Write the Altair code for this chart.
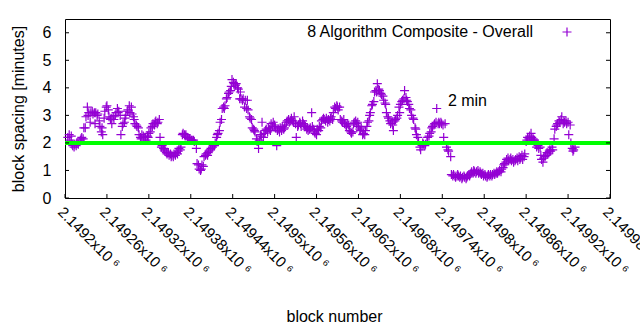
import altair as alt
import pandas as pd

# ---------------- data ----------------
blocks = [
    2149204, 2149206, 2149207, 2149209, 2149210, 2149211, 2149213, 2149214, 2149216, 2149217, 2149219,
    2149222, 2149223, 2149224, 2149226, 2149227, 2149229, 2149230, 2149232, 2149233, 2149234,
    2149236, 2149237, 2149239, 2149240, 2149242, 2149243, 2149244, 2149246, 2149247, 2149249,
    2149250, 2149252, 2149253, 2149254, 2149256, 2149257, 2149259, 2149260, 2149262, 2149263,
    2149265, 2149266, 2149267, 2149269, 2149270, 2149272, 2149273, 2149275, 2149276, 2149277,
    2149279, 2149280, 2149282, 2149283, 2149285, 2149286, 2149287, 2149289, 2149290, 2149292,
    2149293, 2149295, 2149296, 2149298, 2149299, 2149300, 2149302, 2149303, 2149305, 2149306,
    2149308, 2149309, 2149310, 2149312, 2149313, 2149315, 2149316, 2149318, 2149319, 2149320,
    2149322, 2149323, 2149325, 2149326, 2149328, 2149329, 2149330, 2149332, 2149333, 2149335,
    2149336, 2149338, 2149339, 2149341, 2149342, 2149343, 2149345, 2149346, 2149348, 2149349,
    2149351, 2149352, 2149353, 2149355, 2149356, 2149358, 2149359, 2149361, 2149362, 2149363,
    2149365, 2149366, 2149368, 2149369, 2149371, 2149372, 2149373, 2149375, 2149376, 2149378,
    2149379, 2149381, 2149382, 2149384, 2149385, 2149388, 2149389, 2149391, 2149392, 2149394,
    2149395, 2149396, 2149398, 2149399, 2149401, 2149402, 2149404, 2149405, 2149406, 2149408,
    2149409, 2149411, 2149412, 2149414, 2149415, 2149417, 2149418, 2149419, 2149421, 2149422,
    2149424, 2149425, 2149427, 2149428, 2149429, 2149431, 2149432, 2149434, 2149435, 2149437,
    2149438, 2149439, 2149441, 2149442, 2149444, 2149445, 2149447, 2149448, 2149450, 2149451,
    2149452, 2149454, 2149455, 2149457, 2149458, 2149460, 2149461, 2149462, 2149464, 2149465,
    2149467, 2149468, 2149470, 2149471, 2149472, 2149474, 2149475, 2149477, 2149478, 2149480,
    2149481, 2149482, 2149484, 2149485, 2149487, 2149488, 2149490, 2149491, 2149493, 2149494,
    2149495, 2149497, 2149498, 2149500, 2149501, 2149503, 2149504, 2149505, 2149507, 2149508,
    2149510, 2149511, 2149513, 2149514, 2149515, 2149517, 2149518, 2149520, 2149521, 2149523,
    2149524, 2149526, 2149527, 2149528, 2149530, 2149531, 2149533, 2149534, 2149536, 2149537,
    2149538, 2149540, 2149541, 2149543, 2149544, 2149546, 2149547, 2149548, 2149550, 2149551,
    2149553, 2149554, 2149556, 2149557, 2149558, 2149560, 2149561, 2149563, 2149564, 2149566,
    2149567, 2149569, 2149570, 2149571, 2149573, 2149574, 2149576, 2149577, 2149579, 2149580,
    2149581, 2149583, 2149584, 2149586, 2149587, 2149589, 2149590, 2149591, 2149593, 2149594,
    2149596, 2149597, 2149599, 2149600, 2149602, 2149603, 2149604, 2149606, 2149607, 2149609,
    2149610, 2149612, 2149613, 2149614, 2149616, 2149617, 2149619, 2149620, 2149622, 2149623,
    2149624, 2149626, 2149627, 2149629, 2149630, 2149632, 2149633, 2149635, 2149636, 2149637,
    2149639, 2149640, 2149642, 2149643, 2149645, 2149646, 2149647, 2149649, 2149650, 2149652,
    2149653, 2149655, 2149656, 2149658, 2149659, 2149660, 2149662, 2149663, 2149665, 2149666,
    2149668, 2149669, 2149670, 2149672, 2149673, 2149675, 2149676, 2149678, 2149679, 2149680,
    2149682, 2149683, 2149685, 2149686, 2149688, 2149689, 2149690, 2149692, 2149693, 2149695,
    2149696, 2149698, 2149699, 2149701, 2149702, 2149703, 2149705, 2149706, 2149708, 2149709,
    2149711, 2149712, 2149713, 2149715, 2149716, 2149718, 2149719, 2149721, 2149722, 2149724,
    2149725, 2149726, 2149728, 2149729, 2149731, 2149732, 2149734, 2149735, 2149736, 2149738,
    2149739, 2149741, 2149742, 2149744, 2149746, 2149748, 2149749, 2149752,
    2149753, 2149755, 2149756, 2149758, 2149759, 2149761, 2149762, 2149763, 2149765, 2149766,
    2149768, 2149769, 2149771, 2149772, 2149774, 2149775, 2149776, 2149778, 2149779, 2149781,
    2149782, 2149784, 2149785, 2149786, 2149788, 2149789, 2149791, 2149792, 2149794, 2149795,
    2149796, 2149798, 2149799, 2149801, 2149802, 2149804, 2149805, 2149806, 2149808, 2149809,
    2149811, 2149812, 2149814, 2149815, 2149817, 2149818, 2149819, 2149821, 2149822, 2149824,
    2149825, 2149827, 2149828, 2149829, 2149831, 2149832, 2149834, 2149835, 2149837, 2149838,
    2149839, 2149841, 2149842, 2149844, 2149845, 2149847, 2149848, 2149850, 2149851, 2149852,
    2149854, 2149855, 2149857, 2149858, 2149860, 2149861, 2149862, 2149864, 2149865, 2149867,
    2149868, 2149870, 2149871, 2149872, 2149874, 2149875, 2149877, 2149878, 2149880, 2149881,
    2149882, 2149884, 2149885, 2149887, 2149888, 2149890, 2149891, 2149893, 2149894, 2149895,
    2149897, 2149898, 2149900, 2149901, 2149903, 2149904, 2149905, 2149907, 2149908, 2149910,
    2149911, 2149913, 2149914, 2149915, 2149917, 2149918, 2149920, 2149921, 2149923, 2149924,
    2149926, 2149927, 2149928, 2149930,
]

spacing = [
    2.2, 2.3, 2.1, 2.25, 1.95, 1.9, 1.85, 1.95, 1.9, 2.0, 1.95,
    2.1, 2.15, 2.2, 2.15, 2.55, 2.55, 2.95, 3.3, 3.0, 3.1,
    2.75, 3.1, 3.15, 3.05, 3.1, 2.7, 3.1, 3.0, 3.05, 2.8,
    2.6, 2.4, 2.55, 2.3, 2.9, 3.15, 3.3, 3.35, 3.2, 2.95,
    2.85, 2.9, 2.7, 2.95, 2.85, 3.0, 3.1, 3.25, 3.1, 3.15,
    3.0, 2.3, 2.6, 2.7, 2.75, 2.9, 3.0, 3.15, 3.2, 3.35,
    3.1, 3.3, 3.05, 2.95, 2.85, 2.7, 2.65, 2.6, 2.55, 2.3,
    2.2, 2.15, 2.3, 2.25, 2.2, 2.2, 2.1, 2.25, 2.2, 2.35,
    2.4, 2.55, 2.6, 2.7, 2.65, 2.75, 2.8, 2.7, 2.75, 2.85,
    2.2, 1.85, 1.9, 1.8, 1.75, 1.7, 1.65, 1.6, 1.65, 1.55,
    1.6, 1.5, 1.55, 1.5, 1.6, 1.55, 1.65, 1.6, 1.7, 1.8,
    1.75, 1.85, 2.3, 2.35, 2.3, 2.25, 2.3, 2.2, 2.2, 2.15,
    2.15, 2.1, 2.1, 2.1, 2.05, 1.8, 1.25, 1.2, 1.05, 1.0,
    1.05, 1.2, 1.15, 1.5, 1.55, 1.6, 1.55, 1.65, 1.7, 1.75,
    1.8, 1.85, 1.9, 1.9, 2.0, 2.2, 2.3, 2.35, 2.45, 2.75,
    2.85, 3.25, 3.3, 3.25, 3.35, 3.6, 3.65, 3.8, 3.85, 3.9,
    4.05, 4.3, 4.2, 4.15, 4.1, 4.15, 4.0, 3.95, 3.6, 3.85,
    3.6, 3.55, 3.6, 3.3, 3.55, 3.25, 3.55, 3.2, 2.95, 2.9,
    2.85, 2.55, 2.5, 2.45, 2.4, 2.15, 2.05, 1.8, 2.1, 2.3,
    2.25, 2.75, 2.2, 2.35, 2.45, 2.5, 2.4, 2.55, 2.5, 2.45,
    2.7, 2.6, 2.75, 2.65, 2.55, 1.9, 2.45, 2.5, 2.4, 2.55,
    2.45, 2.6, 2.5, 2.55, 2.65, 2.75, 2.8, 2.85, 2.75, 2.8,
    2.9, 2.8, 2.75, 2.95, 2.7, 2.2, 2.6, 2.65, 2.75, 2.7,
    2.6, 2.8, 2.7, 2.65, 2.6, 2.5, 2.55, 2.45, 2.5, 2.55,
    3.1, 2.6, 2.5, 2.4, 2.35, 2.3, 2.5, 2.45, 2.6, 2.55,
    2.8, 2.85, 2.9, 2.85, 2.8, 2.9, 2.75, 2.85, 2.8, 2.9,
    2.95, 2.85, 3.1, 3.3, 3.25, 3.35, 3.3, 3.2, 3.3, 2.85,
    2.8, 2.75, 2.85, 2.7, 2.65, 2.6, 2.7, 2.65, 2.45, 2.4,
    2.35, 2.4, 2.7, 2.75, 2.8, 2.7, 2.75, 2.6, 2.5, 2.45,
    2.55, 2.3, 2.35, 2.3, 2.45, 2.6, 2.75, 2.8, 3.0, 3.1,
    3.35, 3.4, 3.5, 3.85, 3.9, 3.85, 4.15, 3.95, 3.9, 3.8,
    3.75, 3.7, 3.55, 3.45, 3.4, 3.1, 2.95, 2.9, 2.8, 2.7,
    2.75, 2.65, 2.45, 2.8, 2.85, 2.9, 3.0, 3.3, 3.1, 3.4,
    3.5, 3.55, 3.6, 3.9, 3.65, 3.55, 3.5, 3.4, 3.25, 3.2,
    3.0, 2.9, 2.85, 2.55, 2.5, 2.3, 2.2, 2.05, 1.85, 1.75,
    1.9, 2.0, 1.95, 1.9, 1.95, 2.05, 2.2, 2.25, 2.35, 2.4,
    2.55, 2.6, 2.65, 2.7, 2.75, 3.25, 2.7, 2.75, 2.7, 2.75,
    2.7, 2.65, 2.2, 2.7, 1.85, 1.75, 1.7, 1.5,
    0.85, 0.8, 0.85, 0.8, 0.75, 0.8, 0.85, 0.8, 0.75, 0.8,
    0.7, 0.75, 0.8, 0.75, 0.7, 0.75, 0.8, 0.85, 0.8, 0.9,
    0.95, 0.9, 1.0, 0.95, 0.9, 0.95, 1.0, 0.9, 0.95, 0.9,
    0.85, 0.9, 0.8, 0.85, 0.8, 0.75, 0.8, 0.85, 0.8, 0.85,
    0.8, 0.85, 0.9, 0.85, 0.9, 0.95, 0.9, 0.95, 1.0, 0.95,
    1.05, 1.1, 1.2, 1.25, 1.3, 1.4, 1.45, 1.35, 1.4, 1.45,
    1.35, 1.4, 1.3, 1.35, 1.4, 1.45, 1.35, 1.5, 1.4, 1.45,
    1.55, 1.4, 1.5, 1.6, 2.05, 2.1, 2.2, 2.15, 2.25, 2.35,
    2.2, 2.15, 2.1, 2.1, 1.95, 1.85, 1.9, 1.8, 1.85, 1.55,
    1.4, 1.3, 1.45, 1.5, 1.55, 1.65, 1.6, 1.7, 1.75, 1.7,
    1.85, 1.75, 2.15, 2.5, 2.6, 2.65, 2.7, 2.8, 2.75, 2.85,
    2.95, 2.7, 2.8, 2.75, 2.8, 2.7, 2.75, 2.3, 2.65, 2.0,
    1.8, 1.7, 1.75, 1.85,
]

x_tick_values = [2149200, 2149260, 2149320, 2149380, 2149440, 2149500, 2149560,
                 2149620, 2149680, 2149740, 2149800, 2149860, 2149920, 2149980]
x_tick_labels = ["2.1492x10 ⁶", "2.14926x10 ⁶", "2.14932x10 ⁶", "2.14938x10 ⁶",
                 "2.14944x10 ⁶", "2.1495x10 ⁶", "2.14956x10 ⁶", "2.14962x10 ⁶",
                 "2.14968x10 ⁶", "2.14974x10 ⁶", "2.1498x10 ⁶", "2.14986x10 ⁶",
                 "2.14992x10 ⁶", "2.14998x10 ⁶"]
y_tick_values = [0, 1, 2, 3, 4, 5, 6]
x_domain = [2149200, 2149980]
y_domain = [0, 6.5]
reference_level = [2]
annotation_block = [2149748]
annotation_value = [3.53]
annotation_text = ["2 min"]
series_name = "8 Algorithm Composite - Overall"

# ---------------- styling ----------------
FONT = "Liberation Sans"
PURPLE = "#9400d3"
GREEN = "#00ff00"
W, H = 545, 179
PLUS = "M-1,0L1,0M0,-1L0,1"
FS = 16

df = pd.DataFrame({"block": blocks, "spacing": spacing})
level_df = pd.DataFrame({"spacing": reference_level})
ann_df = pd.DataFrame({"block": annotation_block, "spacing": annotation_value, "text": annotation_text})
xt_df = pd.DataFrame({"block": x_tick_values})
yt_df = pd.DataFrame({"spacing": y_tick_values})

label_expr = "''"
for v, lab in reversed(list(zip(x_tick_values, x_tick_labels))):
    label_expr = f"datum.value == {v} ? '{lab}' : ({label_expr})"

xscale = alt.Scale(domain=x_domain, nice=False, zero=False)
yscale = alt.Scale(domain=y_domain, nice=False, zero=True)

x_axis = alt.Axis(
    values=x_tick_values, labelExpr=label_expr, labelAngle=45, labelAlign="left",
    labelBaseline="top", labelPadding=6, ticks=False, domain=False, grid=False,
    labelOverlap=False, labelFlush=False, labelBound=False,
    labelFont=FONT, labelFontSize=15, labelColor="#000000",
    title="block number", titleFont=FONT, titleFontSize=FS, titleFontWeight="normal",
    titleColor="#000000", titleX=269, titleY=118, titleAlign="center", titleBaseline="middle",
)
y_axis = alt.Axis(
    values=y_tick_values, ticks=False, domain=False, grid=False, labelPadding=14,
    labelOverlap=False, labelFlush=False,
    labelFont=FONT, labelFontSize=FS, labelColor="#000000",
    title="block spacing [minutes]", titleFont=FONT, titleFontSize=FS,
    titleFontWeight="normal", titleColor="#000000", titleX=-47, titleY=H / 2,
    titleAlign="center", titleBaseline="middle", titleAngle=-90,
)


def X():
    return alt.X("block:Q", scale=xscale, axis=x_axis)


def Y():
    return alt.Y("spacing:Q", scale=yscale, axis=y_axis)


points = alt.Chart(df).mark_point(
    shape=PLUS, size=81, filled=False, strokeWidth=1.2, color=PURPLE, opacity=1
).encode(x=X(), y=Y())

level = alt.Chart(level_df).mark_rule(color=GREEN, strokeWidth=4).encode(y=Y())

ann = alt.Chart(ann_df).mark_text(
    align="left", baseline="middle", font=FONT, fontSize=FS, color="#000000"
).encode(x=X(), y=Y(), text="text:N")

key_text = alt.Chart(pd.DataFrame({"t": [series_name]})).mark_text(
    align="right", baseline="middle", font=FONT, fontSize=FS, color="#000000"
).encode(x=alt.value(468), y=alt.value(13), text="t:N")
key_sym = alt.Chart(pd.DataFrame({"t": [series_name]})).mark_point(
    shape=PLUS, size=81, filled=False, strokeWidth=1.2, color=PURPLE, opacity=1
).encode(x=alt.value(502), y=alt.value(13))

tick_len = 4
left_ticks = alt.Chart(yt_df).mark_rule(color="black", strokeWidth=1).encode(
    y=Y(), x=alt.value(0), x2=alt.value(tick_len))
right_ticks = alt.Chart(yt_df).mark_rule(color="black", strokeWidth=1).encode(
    y=Y(), x=alt.value(W - tick_len), x2=alt.value(W))
bottom_ticks = alt.Chart(xt_df).mark_rule(color="black", strokeWidth=1).encode(
    x=X(), y=alt.value(H - tick_len), y2=alt.value(H))

chart = alt.layer(
    points, level, ann, key_text, key_sym, left_ticks, right_ticks, bottom_ticks
).properties(
    width=W, height=H,
    autosize=alt.AutoSizeParams(type="none"),
    padding={"left": 65, "top": 19, "right": 30, "bottom": 132},
    background="white",
).configure_view(stroke="black", strokeWidth=1)

chart.save("out.html", embed_options={"renderer": "svg", "actions": False})
